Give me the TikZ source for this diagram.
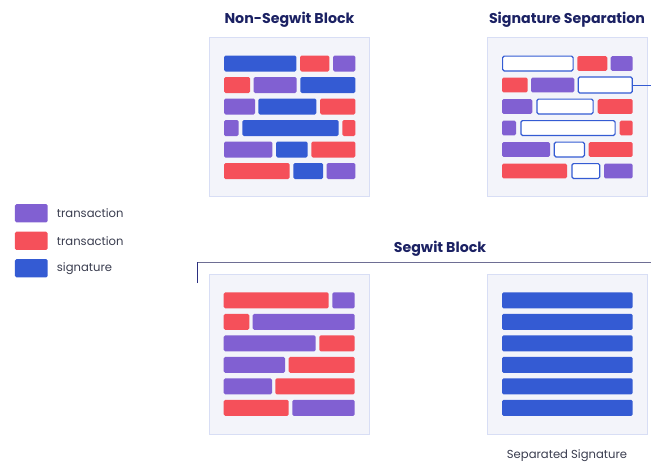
\documentclass[tikz,border=0pt]{standalone}
\usepackage{fontspec}
\setmainfont{Poppins}
\usetikzlibrary{positioning}

\definecolor{txpurple}{HTML}{8160D2}
\definecolor{txred}{HTML}{F5505A}
\definecolor{txblue}{HTML}{345BD3}
\definecolor{panelbg}{HTML}{F3F4FA}
\definecolor{panelline}{HTML}{D8DEF5}
\definecolor{titlenavy}{HTML}{1B2163}
\definecolor{legendgray}{HTML}{3A3D4F}
\definecolor{bracketgray}{HTML}{6E6E94}
\definecolor{bracketnavy}{HTML}{2B2F80}

\tikzset{
  panel/.style={fill=panelbg,draw=panelline,line width=0.9pt},
  bar/.style={rounded corners=1.5pt},
  ptx/.style={fill=txpurple},
  rtx/.style={fill=txred},
  sig/.style={fill=txblue},
  hollow/.style={fill=white,draw=txblue,line width=1.2pt},
  title/.style={font=\bfseries\fontsize{14.2}{17}\selectfont,text=titlenavy},
  swatch/.style={rectangle,rounded corners=1.5pt,minimum width=32.7pt,minimum height=18.3pt,inner sep=0pt},
  legtext/.style={font=\fontsize{11.6}{13}\selectfont,text=legendgray}
}

\begin{document}
\begin{tikzpicture}[x=1pt,y=-1pt]

\useasboundingbox (0,0) rectangle (660,461);

% block panels
\draw[panel] (209,37) rectangle (369,196);
\draw[panel] (487.3,37) rectangle (647.3,196);
\draw[panel] (209,274.7) rectangle (369.7,434.3);
\draw[panel] (487.3,274.7) rectangle (647.3,434);

% titles
\node[title] (nonsegwit) at (289.5,19.5) {Non-Segwit Block};
\node[title] (sigsep) at (567,19.5) {Signature Separation};
\node[title] (segwit) at (440,248.5) {Segwit Block};
\node[legtext] (sepsig) at (567,455.5) {Separated Signature};

% non-segwit block
\foreach \y/\segs in {
  55.5/{224/296.3/sig,300/329.3/rtx,333/355.3/ptx},
  77/{224/250/rtx,253.7/296.7/ptx,300.3/355.3/sig},
  98.5/{224/255/ptx,258.3/316.3/sig,320/355.3/rtx},
  120/{224/238.7/ptx,242.3/338.7/sig,342.3/355.3/rtx},
  141.5/{224/272.3/ptx,276/307.7/sig,311.3/355.3/rtx},
  163/{224/289.7/rtx,293.3/323/sig,326.7/355.3/ptx}}
  \foreach \a/\b/\c in \segs
    \path[bar,\c] (\a,\y) rectangle (\b,\y+16);

% signature separation
\foreach \y/\segs in {
  55.5/{502.6/573.1/hollow,577.3/607.3/rtx,610.7/632.7/ptx},
  77/{502/527.7/rtx,531/574.3/ptx},
  98.5/{502/532.3/ptx,536.9/593.1/hollow,597.7/632.7/rtx},
  120/{502/516/ptx,520.9/615.1/hollow,619.7/632.7/rtx},
  141.5/{502/550/ptx,554.3/584.4/hollow,588.7/632.7/rtx},
  163/{502/567/rtx,571.9/599.7/hollow,604/632.7/ptx}}
  \foreach \a/\b/\c in \segs
    \path[bar,\c] (\a,\y+0.6) rectangle (\b,\y+15.4);

\node[hollow,rounded corners=1.5pt,minimum width=54pt,minimum height=16pt,inner sep=0pt] (sigbox) at (605.3,85) {};
\coordinate (sigend) at (651,85);
\draw[txblue,line width=1pt] (sigbox.east) -- (sigend);

% segwit block
\foreach \y/\segs in {
  292.3/{223.7/328.7/rtx,332.3/354.7/ptx},
  313.8/{223.7/249.3/rtx,252.7/354.7/ptx},
  335.3/{223.7/315.7/ptx,319.3/354.7/rtx},
  356.8/{223.7/285/ptx,288.7/354.7/rtx},
  378.3/{223.7/272/ptx,275.3/354.7/rtx},
  399.8/{223.7/288.7/rtx,292.3/354.7/ptx}}
  \foreach \a/\b/\c in \segs
    \path[bar,\c] (\a,\y) rectangle (\b,\y+16);

% separated signatures
\foreach \y in {292.3,313.8,335.3,356.8,378.3,399.8}
  \path[bar,sig] (502,\y) rectangle (632.7,\y+16);

% segwit bracket
\coordinate (brfoot) at (197.7,283);
\coordinate (brcorner) at (197.7,262.3);
\coordinate (brend) at (651,262.3);
\draw[bracketgray,line width=1.3pt] (brcorner) -- (brend);
\draw[bracketnavy,line width=1.3pt] (brfoot) -- (brcorner);

% legend
\node[swatch,fill=txpurple] (legpurple) at (31.3,213.2) {};
\node[swatch,fill=txred] (legred) at (31.3,240.8) {};
\node[swatch,fill=txblue] (legblue) at (31.3,268.2) {};
\node[legtext,right=5.5pt of legpurple] {transaction};
\node[legtext,right=5.5pt of legred] {transaction};
\node[legtext,right=5.5pt of legblue] {signature};

\end{tikzpicture}
\end{document}
